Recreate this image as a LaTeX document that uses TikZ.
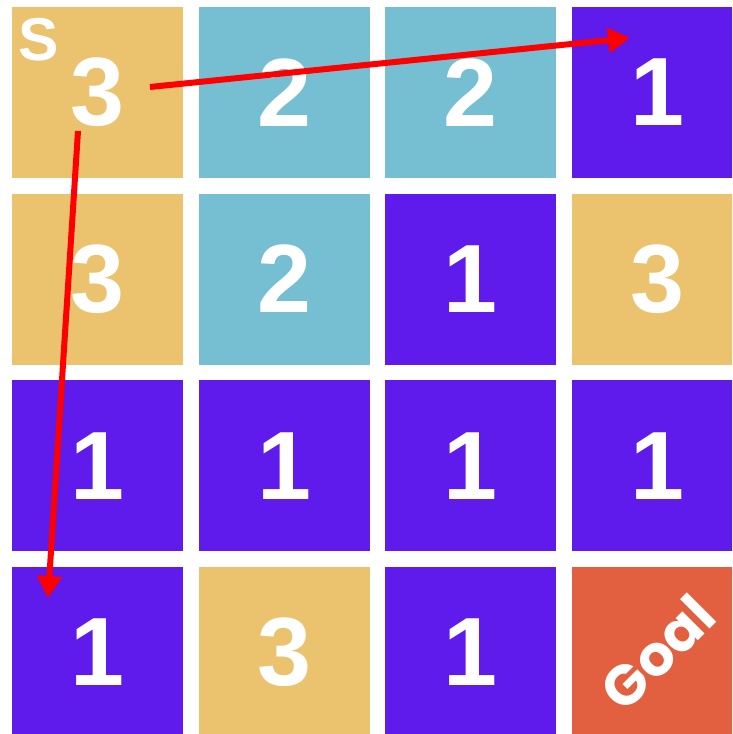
\documentclass[tikz,border=0pt]{standalone}
\usepackage{fontspec}
\setmainfont{Liberation Sans}
\newfontfamily\goalfont{Poppins}
\usetikzlibrary{positioning,arrows.meta}
\definecolor{sandcolor}{HTML}{EBC36E}
\definecolor{skycolor}{HTML}{76BFD3}
\definecolor{jumpcolor}{HTML}{5E1BEB}
\definecolor{goalcolor}{HTML}{E2603F}

\begin{document}
\begin{tikzpicture}[
    x=0.025cm, y=-0.025cm,
    node distance=0.375cm,
    cell/.style={rectangle, inner sep=0pt,
                 minimum size=4.275cm,
                 text=white,
                 font=\fontsize{69}{69}\selectfont\bfseries},
    sand/.style={cell, fill=sandcolor},
    sky/.style={cell, fill=skycolor},
    jump/.style={cell, fill=jumpcolor},
    goal/.style={cell, fill=goalcolor,
                 font=\goalfont\fontsize{40}{40}\selectfont\bfseries},
    hop/.style={-{Triangle[length=0.55cm, width=0.6cm]},
                draw=red, line width=0.15cm}
]
\useasboundingbox (0,0) rectangle (732,734);
\clip (0,0) rectangle (732,734);

% first row
\node[sand] (c11) at (97.5,92.5) {3};
\node[sky, right=of c11] (c12) {2};
\node[sky, right=of c12] (c13) {2};
\node[jump, right=of c13] (c14) {1};
% second row
\node[sand, below=of c11] (c21) {3};
\node[sky, right=of c21] (c22) {2};
\node[jump, right=of c22] (c23) {1};
\node[sand, right=of c23] (c24) {3};
% third row
\node[jump, below=of c21] (c31) {1};
\node[jump, right=of c31] (c32) {1};
\node[jump, right=of c32] (c33) {1};
\node[jump, right=of c33] (c34) {1};
% fourth row
\node[jump, below=of c31] (c41) {1};
\node[sand, right=of c41] (c42) {3};
\node[jump, right=of c42] (c43) {1};
\node[goal, right=of c43] (c44) {\rotatebox{45}{Goal}};

\node[text=white, font=\fontsize{43}{43}\selectfont\bfseries] (start) at (39,40) {S};

\coordinate (fromR) at (150,87);
\coordinate (toR) at (630,38);
\coordinate (fromD) at (78,131);
\coordinate (toD) at (48,598);

\draw[hop] (fromR) -- (toR);
\draw[hop] (fromD) -- (toD);
\end{tikzpicture}
\end{document}
